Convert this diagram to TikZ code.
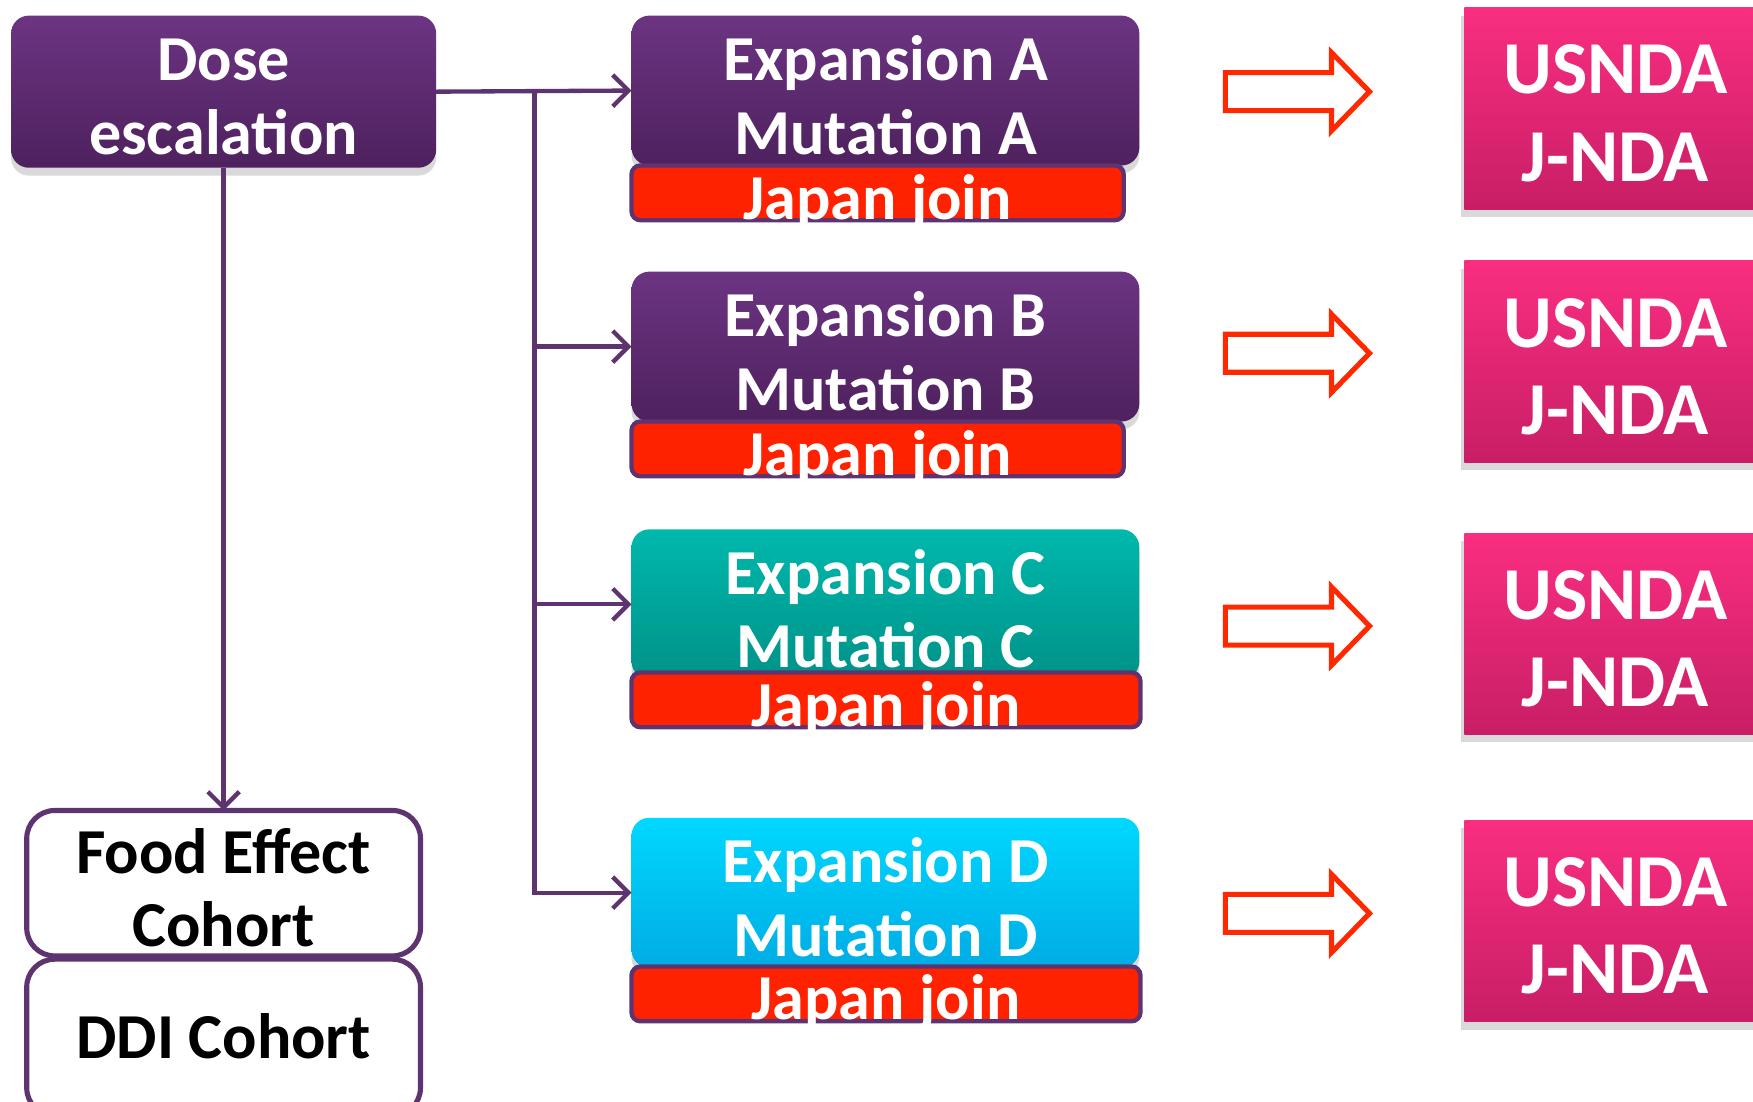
\documentclass[tikz,border=0pt]{standalone}
\usepackage{fontspec}
\setmainfont{Carlito}
\usetikzlibrary{arrows.meta,shadows}
\definecolor{purpletop}{RGB}{108,52,130}
\definecolor{purplebot}{RGB}{78,33,94}
\definecolor{tealtop}{RGB}{0,184,172}
\definecolor{tealbot}{RGB}{0,146,136}
\definecolor{cyantop}{RGB}{0,216,255}
\definecolor{cyanbot}{RGB}{0,172,228}
\definecolor{pinktop}{RGB}{250,46,128}
\definecolor{pinkbot}{RGB}{200,30,102}
\definecolor{joinred}{RGB}{255,34,0}
\definecolor{linepurple}{RGB}{94,52,112}
\definecolor{arrowred}{RGB}{255,40,0}

\begin{document}
\begin{tikzpicture}
[x=0.01cm,y=-0.01cm%
,every node/.style={inner sep=0pt,outer sep=0pt}%
,stagebox/.style={rounded corners=0.16cm,%
	minimum width=4.54cm,%
	minimum height=1.34cm,%
	drop shadow={opacity=.3,shadow xshift=0pt,shadow yshift=-2pt}}%
,purplebox/.style={stagebox,top color=purpletop,bottom color=purplebot}%
,joinbar/.style={draw=linepurple,line width=1.1pt,%
	fill=joinred,%
	rounded corners=0.08cm,%
	minimum height=0.49cm}%
,ndabox/.style={minimum width=2.7cm,minimum height=1.8cm,%
	top color=pinktop,bottom color=pinkbot,%
	drop shadow={opacity=.3,shadow xshift=-1pt,shadow yshift=-2pt}}%
,cohort/.style={draw=linepurple,line width=1.3pt,fill=white,%
	rounded corners=0.25cm,minimum width=3.52cm}%
,wtxt/.style={text=white,align=center,anchor=base,%
	font=\fontsize{16.3}{18.8}\selectfont\bfseries}%
,btxt/.style={wtxt,text=black}%
,ndatxt/.style={wtxt,font=\fontsize{19}{22.2}\selectfont\bfseries}%
,conn/.style={draw=linepurple,line width=1.1pt}%
,>={Straight Barb[length=4pt,width=8pt]}]
\useasboundingbox (0,0) rectangle (1568,985);
\clip (0,0) rectangle (1568,985);

% dose escalation and cohorts
\node[purplebox,minimum width=3.8cm,minimum height=1.36cm] (dose) at (200,82) {};
\node[wtxt] (doset) at (200,138) {Dose\\escalation};
\node[cohort,minimum height=1.3cm] (food) at (200,790) {};
\node[btxt] (foodt) at (200,847) {Food Effect\\Cohort};
\node[cohort,minimum height=1.4cm] (ddi) at (200,928) {};
\node[btxt] (ddit) at (200,947) {DDI Cohort};

% expansion parts
\node[purplebox] (expA) at (792,81) {};
\node[wtxt] (expAt) at (792,138) {Expansion A\\Mutation A};
\node[joinbar,minimum width=4.4cm] (joinA) at (785,172.5) {};
\node[wtxt] (joinAt) at (785,196) {Japan join};

\node[purplebox] (expB) at (792,310) {};
\node[wtxt] (expBt) at (792,367) {Expansion B\\Mutation B};
\node[joinbar,minimum width=4.4cm] (joinB) at (785,401.5) {};
\node[wtxt] (joinBt) at (785,425) {Japan join};

\node[stagebox,top color=tealtop,bottom color=tealbot] (expC) at (792,540.5) {};
\node[wtxt] (expCt) at (792,597.5) {Expansion C\\Mutation C};
\node[joinbar,minimum width=4.55cm] (joinC) at (792.5,626) {};
\node[wtxt] (joinCt) at (792.5,650) {Japan join};

\node[stagebox,top color=cyantop,bottom color=cyanbot] (expD) at (792,798.5) {};
\node[wtxt] (expDt) at (792,855.5) {Expansion D\\Mutation D};
\node[joinbar,minimum width=4.55cm] (joinD) at (792.5,889) {};
\node[wtxt] (joinDt) at (792.5,912) {Japan join};

% connectors
\coordinate (fork) at (478,82);
\draw[conn,->] (dose.east) -- (expA.west);
\draw[conn,->] (fork) |- (expB.west);
\draw[conn,->] (fork) |- (expC.west);
\draw[conn,->] (fork) |- (expD.west);
\draw[conn,->] (dose.south) -- (food.north);

% NDA
\foreach \y in {82,316,560,817}
	\draw[arrowred,line width=1.3pt] (1096,\y-17) -- (1191,\y-17) -- (1191,\y-35)
		-- (1225,\y) -- (1191,\y+35) -- (1191,\y+17) -- (1096,\y+17) -- cycle;
\node[ndabox] (ndaA) at (1445,97) {};
\node[ndatxt] (ndaAt) at (1445,162) {USNDA\\J-NDA};
\node[ndabox] (ndaB) at (1445,323.5) {};
\node[ndatxt] (ndaBt) at (1445,388.5) {USNDA\\J-NDA};
\node[ndabox] (ndaC) at (1445,567) {};
\node[ndatxt] (ndaCt) at (1445,632) {USNDA\\J-NDA};
\node[ndabox] (ndaD) at (1445,824) {};
\node[ndatxt] (ndaDt) at (1445,889) {USNDA\\J-NDA};
\end{tikzpicture}
\end{document}
